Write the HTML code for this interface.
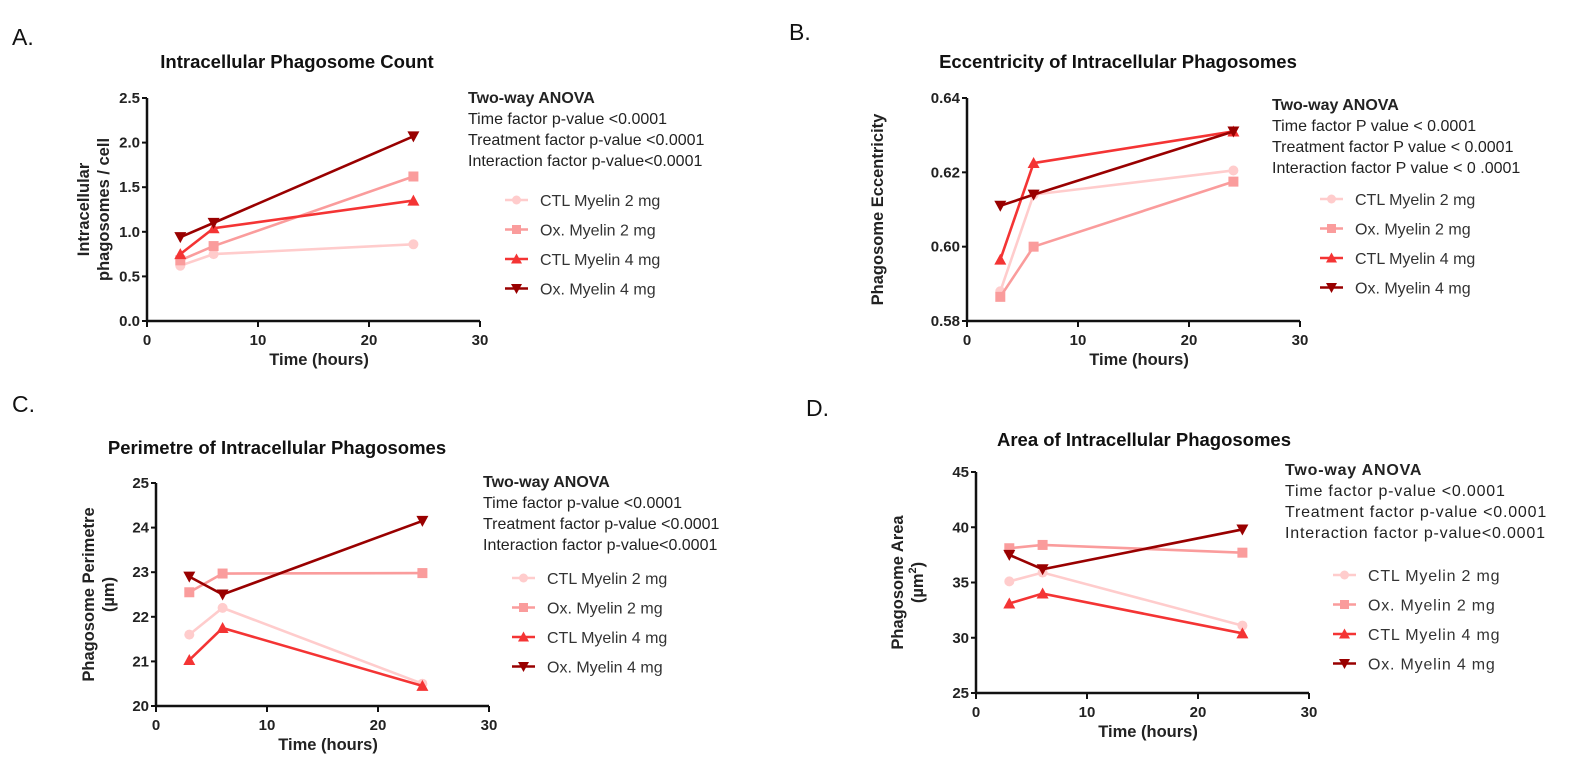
<!DOCTYPE html>
<html><head><meta charset="utf-8"><style>
body{margin:0;background:#fff}
svg{display:block;font-family:"Liberation Sans",Arial,sans-serif}
.tick{font-weight:bold;font-size:15px;fill:#222}
.ttl{font-weight:bold;font-size:18.5px;fill:#111}
.ax{font-weight:bold;font-size:16.5px;fill:#222}
.an{font-size:16px;fill:#222}
.lg{font-size:16px;fill:#333}
.let{font-size:23px;fill:#111}
</style></head><body>
<svg id="fig" width="1588" height="778"></svg>
<script>
const hours = [3, 6, 24];
const seriesNames = ["CTL Myelin 2 mg","Ox. Myelin 2 mg","CTL Myelin 4 mg","Ox. Myelin 4 mg"];
const colors = ["#ffcccc","#fa9c9c","#f43434","#990000"];
const countA = [[0.62,0.75,0.86],[0.68,0.84,1.62],[0.75,1.04,1.35],[0.94,1.10,2.07]];
const eccB = [[0.588,0.614,0.6205],[0.5865,0.600,0.6175],[0.5965,0.6225,0.631],[0.611,0.614,0.631]];
const perimC = [[21.6,22.2,20.5],[22.55,22.97,22.98],[21.03,21.75,20.45],[22.9,22.5,24.15]];
const areaD = [[35.1,35.9,31.1],[38.1,38.4,37.7],[33.1,34.0,30.4],[37.5,36.2,39.8]];
const xTicks = [0,10,20,30];
const yTicksA = ["0.0","0.5","1.0","1.5","2.0","2.5"];
const yTicksB = ["0.58","0.60","0.62","0.64"];
const yTicksC = ["20","21","22","23","24","25"];
const yTicksD = ["25","30","35","40","45"];

const NS="http://www.w3.org/2000/svg";
const svg=document.getElementById('fig');
function mk(tag,attrs,parent,text){const e=document.createElementNS(NS,tag);for(const k in attrs)e.setAttribute(k,attrs[k]);if(text!==undefined)e.textContent=text;(parent||svg).appendChild(e);return e;}

function marker(g,i,x,y,s){
  const c=colors[i];let m;
  if(i===0)m=mk('circle',{cx:x,cy:y,r:s,fill:c},g);
  else if(i===1)m=mk('rect',{x:x-s,y:y-s,width:2*s,height:2*s,fill:c},g);
  else if(i===2)m=mk('polygon',{points:`${x},${y-s-1} ${x-s-1},${y+s} ${x+s+1},${y+s}`,fill:c},g);
  else m=mk('polygon',{points:`${x},${y+s+1} ${x-s-1},${y-s} ${x+s+1},${y-s}`,fill:c},g);
  return m;
}

function panel(p){
  const g=mk('g',{},svg);
  
  
  const yTicks=p.yt.map(Number);
  const ymin=yTicks[0],ymax=yTicks[yTicks.length-1];
  const sx=v=>p.x0+(v/30)*p.w;
  const sy=v=>p.yb-(v-ymin)/(ymax-ymin)*(p.yb-p.yt0);
  const lt=mk('text',{x:p.lx,y:p.ly,class:'let'},g,p.letter);
  
  const t=mk('text',{x:p.tx,y:p.ty,class:'ttl','text-anchor':'middle'},g,p.title);
  
  const ya=mk('line',{x1:p.x0,y1:p.yt0,x2:p.x0,y2:p.yb+1,stroke:'#111','stroke-width':2.5},g);
  
  const xa=mk('line',{x1:p.x0-1,y1:p.yb,x2:sx(30),y2:p.yb,stroke:'#111','stroke-width':2.5},g);
  
  p.yt.forEach((lab,k)=>{const y=sy(yTicks[k]);
    mk('line',{x1:p.x0-5,y1:y,x2:p.x0,y2:y,stroke:'#111','stroke-width':2},g);
    const tt=mk('text',{x:p.x0-7,y:y+5,class:'tick','text-anchor':'end'},g,lab);
    });
  xTicks.forEach(v=>{const x=sx(v);
    mk('line',{x1:x,y1:p.yb,x2:x,y2:p.yb+6,stroke:'#111','stroke-width':2},g);
    const tt=mk('text',{x:x,y:p.yb+24,class:'tick','text-anchor':'middle'},g,String(v));
    });
  const xt=mk('text',{x:sx(15.5),y:p.yb+44,class:'ax','text-anchor':'middle'},g,'Time (hours)');
  
  const yl=mk('text',{transform:`translate(${p.yx},${(p.yt0+p.yb)/2}) rotate(-90)`,class:'ax','text-anchor':'middle'},g);
  
  p.ylab.forEach((s,k)=>{const ts=mk('tspan',{x:0,dy:k===0?(p.ylab.length>1?-3:5):20},yl);
    if(s==='(µm2)'){ts.textContent='(µm';mk('tspan',{dy:-7,'font-size':'11px'},ts,'2');mk('tspan',{dy:7},ts,')');}
    else ts.textContent=s;});
  p.data.forEach((vals,i)=>{
    const sg=mk('g',{},g);
    
    
    const pts=vals.map((v,k)=>sx(hours[k])+','+sy(v)).join(' ');
    const pl=mk('polyline',{points:pts,fill:'none',stroke:colors[i],'stroke-width':2.6},sg);
    
    vals.forEach((v,k)=>{const m=marker(sg,i,sx(hours[k]),sy(v),5);
      });
  });
  const an=mk('g',{},g);
  p.anova.forEach((s,k)=>mk('text',{x:p.ax,y:p.ay+k*21,class:'an','font-weight':k===0?'bold':'normal','letter-spacing':p.ls||0},an,s));
  seriesNames.forEach((n,i)=>{const lg=mk('g',{},g);
    
    const y=p.gy+i*29.5;
    mk('line',{x1:p.gx,y1:y,x2:p.gx+23,y2:y,stroke:colors[i],'stroke-width':2.6},lg);
    marker(lg,i,p.gx+11.5,y,4.5);
    mk('text',{x:p.gx+35,y:y+6,class:'lg','letter-spacing':p.ls||0},lg,n);});
}
const hy=["Two-way ANOVA","Time factor p-value <0.0001","Treatment factor p-value <0.0001","Interaction factor p-value<0.0001"];
const hyB=["Two-way ANOVA","Time factor P value < 0.0001","Treatment factor P value < 0.0001","Interaction factor P value < 0 .0001"];
panel({id:'a',letter:'A.',lx:12,ly:45,title:'Intracellular Phagosome Count',tx:297,ty:68,x0:147,w:333,yt0:98,yb:321,yt:yTicksA,
  ylab:['Intracellular','phagosomes / cell'],yx:92,data:countA,anova:hy,ax:468,ay:103,gx:505,gy:200});
panel({id:'b',letter:'B.',lx:789,ly:40,title:'Eccentricity of Intracellular Phagosomes',tx:1118,ty:68,x0:967,w:333,yt0:98,yb:321,yt:yTicksB,
  ylab:['Phagosome Eccentricity'],yx:878,data:eccB,anova:hyB,ax:1272,ay:110,gx:1320,gy:199});
panel({id:'c',letter:'C.',lx:12,ly:412,title:'Perimetre of Intracellular Phagosomes',tx:277,ty:454,x0:156,w:333,yt0:483,yb:706,yt:yTicksC,
  ylab:['Phagosome Perimetre','(µm)'],yx:97,data:perimC,anova:hy,ax:483,ay:487,gx:512,gy:578});
panel({id:'d',letter:'D.',lx:806,ly:416,title:'Area of Intracellular Phagosomes',tx:1144,ty:446,x0:976,w:333,yt0:472,yb:693,yt:yTicksD,
  ylab:['Phagosome Area','(µm2)'],yx:906,data:areaD,anova:hy,ax:1285,ay:475,gx:1333,gy:575,ls:0.8});
</script>
</body></html>
